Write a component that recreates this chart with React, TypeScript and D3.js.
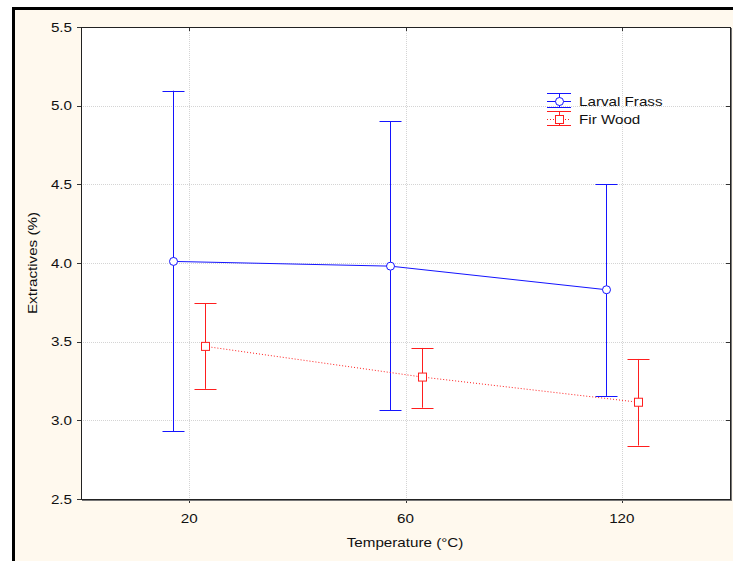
import * as d3 from "d3";

const temps = ["20", "60", "120"];
const yTicks = [2.5, 3.0, 3.5, 4.0, 4.5, 5.0, 5.5];

const frassMean = [4.01, 3.98, 3.83];
const frassHi = [5.095, 4.9, 4.5];
const frassLo = [2.93, 3.065, 3.155];

const firMean = [3.47, 3.275, 3.115];
const firHi = [3.745, 3.46, 3.39];
const firLo = [3.2, 3.08, 2.84];

const W = 733;
const H = 561;
const m = { left: 81, top: 27, right: 730, bottom: 499 };

const x = d3.scalePoint<string>().domain(temps).range([m.left, m.right]).padding(0.5);
const y = d3.scaleLinear().domain([2.5, 5.5]).range([m.bottom, m.top]);

const series = [
  { name: "Larval Frass", color: "rgb(20,20,255)", mean: frassMean, hi: frassHi, lo: frassLo, dx: -16, marker: "circle", dash: "" },
  { name: "Fir Wood", color: "rgb(255,30,30)", mean: firMean, hi: firHi, lo: firLo, dx: 16, marker: "square", dash: "1,2" },
];

const font = "'Liberation Sans', Arial, sans-serif";

// text stretched a little wider, like the original export
const Txt = ({ x: tx, y: ty, anchor = "start", rotate = 0, children }: any) => (
  <text
    transform={`translate(${tx},${ty}) rotate(${rotate}) scale(1.17,1)`}
    textAnchor={anchor}
    fontSize={13}
    fill="#111"
  >
    {children}
  </text>
);

export default function App() {
  return (
    <svg width={W} height={H} style={{ position: "absolute", left: 0, top: 0, display: "block" }} fontFamily={font}>
      <rect x={0} y={0} width={W} height={H} fill="#ffffff" />
      <rect x={12} y={7} width={W} height={H} fill="#fff9ee" />
      <line x1={13.5} y1={7} x2={13.5} y2={H} stroke="#000" strokeWidth={3} />
      <line x1={12} y1={8.5} x2={W} y2={8.5} stroke="#000" strokeWidth={3} />

      <rect x={m.left} y={m.top} width={m.right - m.left} height={m.bottom - m.top} fill="#fff" />

      {/* grid */}
      {yTicks.slice(1, -1).map((t) => (
        <line key={"gy" + t} x1={m.left} x2={m.right} y1={Math.round(y(t)) + 0.5} y2={Math.round(y(t)) + 0.5} stroke="#d4d4d4" strokeDasharray="1,1" />
      ))}
      {temps.map((t) => (
        <line key={"gx" + t} x1={Math.round(x(t)!) + 0.5} x2={Math.round(x(t)!) + 0.5} y1={m.top} y2={m.bottom} stroke="#d4d4d4" strokeDasharray="1,1" />
      ))}

      {/* ticks */}
      {yTicks.map((t) => (
        <g key={"ty" + t}>
          <line x1={m.left - 4} x2={m.left} y1={Math.round(y(t)) + 0.5} y2={Math.round(y(t)) + 0.5} stroke="#333" />
          <line x1={m.right - 4} x2={m.right} y1={Math.round(y(t)) + 0.5} y2={Math.round(y(t)) + 0.5} stroke="#333" />
          <Txt x={72} y={y(t) + 4.5} anchor="end">
            {d3.format(".1f")(t)}
          </Txt>
        </g>
      ))}
      {temps.map((t) => (
        <g key={"tx" + t}>
          <line x1={Math.round(x(t)!) + 0.5} x2={Math.round(x(t)!) + 0.5} y1={m.bottom} y2={m.bottom + 4} stroke="#333" />
          <line x1={Math.round(x(t)!) + 0.5} x2={Math.round(x(t)!) + 0.5} y1={m.top} y2={m.top + 4} stroke="#333" />
          <Txt x={x(t)} y={523} anchor="middle">
            {t}
          </Txt>
        </g>
      ))}

      {/* series */}
      {series.map((s) => {
        const px = temps.map((t) => Math.round(x(t)! + s.dx) + 0.5);
        const path = d3
          .line<number>()
          .x((_, i) => px[i])
          .y((d) => y(d))(s.mean);
        return (
          <g key={s.name} stroke={s.color}>
            <path d={path!} fill="none" strokeWidth={1} strokeDasharray={s.dash || undefined} />
            {s.mean.map((v, i) => (
              <g key={i}>
                <line x1={px[i]} x2={px[i]} y1={y(s.hi[i])} y2={y(s.lo[i])} />
                <line x1={px[i] - 11} x2={px[i] + 11} y1={Math.round(y(s.hi[i])) + 0.5} y2={Math.round(y(s.hi[i])) + 0.5} />
                <line x1={px[i] - 11} x2={px[i] + 11} y1={Math.round(y(s.lo[i])) + 0.5} y2={Math.round(y(s.lo[i])) + 0.5} />
                {s.marker === "circle" ? (
                  <circle cx={px[i]} cy={y(v)} r={4} fill="#fff" />
                ) : (
                  <rect x={px[i] - 4} y={y(v) - 4} width={8} height={8} fill="#fff" />
                )}
              </g>
            ))}
          </g>
        );
      })}

      {/* plot frame */}
      <rect x={m.left + 0.5} y={m.top + 0.5} width={m.right - m.left} height={m.bottom - m.top} fill="none" stroke="#222" />
      <line x1={m.right + 1.5} x2={m.right + 1.5} y1={m.top + 1} y2={m.bottom + 2} stroke="#777" />
      <line x1={m.left + 1} x2={m.right + 2} y1={m.bottom + 1.5} y2={m.bottom + 1.5} stroke="#777" />

      {/* legend */}
      {series.map((s, i) => {
        const cy = 101 + i * 18;
        const cx = 559.5;
        return (
          <g key={"lg" + s.name}>
            <g stroke={s.color}>
              <line x1={547} x2={571} y1={cy - 7.5} y2={cy - 7.5} />
              <line x1={547} x2={571} y1={cy + 6.5} y2={cy + 6.5} />
              <line x1={cx} x2={cx} y1={cy - 7} y2={cy + 6} />
              <line x1={547} x2={571} y1={cy + 0.5} y2={cy + 0.5} strokeDasharray={s.dash || undefined} />
              {s.marker === "circle" ? (
                <circle cx={cx} cy={cy + 0.5} r={4} fill="#fff" />
              ) : (
                <rect x={cx - 4} y={cy - 3.5} width={8} height={8} fill="#fff" />
              )}
            </g>
            <Txt x={579} y={cy + 5}>
              {s.name}
            </Txt>
          </g>
        );
      })}

      {/* axis titles */}
      <Txt x={405} y={547} anchor="middle">
        Temperature (°C)
      </Txt>
      <Txt x={37} y={(m.top + m.bottom) / 2} anchor="middle" rotate={-90}>
        Extractives (%)
      </Txt>
    </svg>
  );
}
